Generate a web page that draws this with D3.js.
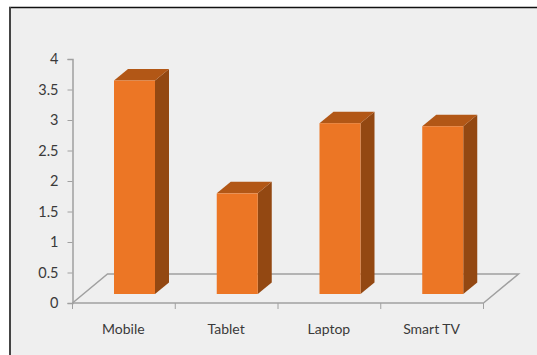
<!DOCTYPE html>
<html>
<head>
<meta charset="utf-8">
<script src="https://cdn.jsdelivr.net/npm/d3@7/dist/d3.min.js"></script>
<style>
html,body{margin:0;padding:0;background:#fff;}
svg{display:block;}
text{font-family:Lato,"Open Sans",sans-serif;}
</style>
</head>
<body>
<svg id="chart" width="537" height="355"></svg>
<script>
const categories = ["Mobile", "Tablet", "Laptop", "Smart TV"];
const usageValues = [3.5, 1.65, 2.8, 2.75];
const yTickValues = [0, 0.5, 1, 1.5, 2, 2.5, 3, 3.5, 4];

const svg = d3.select("#chart");

// Panel background and its dark top and left edges
svg.append("rect").attr("x", 10).attr("y", 8).attr("width", 527).attr("height", 347).attr("fill", "#efefef");
svg.append("line").attr("x1", 9).attr("x2", 537).attr("y1", 7.5).attr("y2", 7.5).attr("stroke", "#111").attr("stroke-width", 1.4);
svg.append("line").attr("x1", 10).attr("x2", 10).attr("y1", 7).attr("y2", 355).attr("stroke", "#444").attr("stroke-width", 2);

const xBand = d3.scaleBand().domain(categories).range([72.5, 483.5]);
const y = d3.scaleLinear().domain([0, 4]).range([303, 59]);

// Floor depth and the offset of each bar inside it
const floor = {dx: 35, dy: -29};
const barBase = {dy: -9};
const side = {dx: 14, dy: -11.5};

const gridColor = "#a0a0a0";

// Floor outline
svg.append("path")
  .attr("d", d3.line()([
    [72.5, y(0)],
    [72.5 + floor.dx, y(0) + floor.dy],
    [483.5 + floor.dx, y(0) + floor.dy],
    [483.5, y(0)]
  ]))
  .attr("fill", "none").attr("stroke", gridColor).attr("stroke-width", 1.5);

// Value axis
const yAxis = svg.append("g").attr("transform", "translate(72.5,0)")
  .call(d3.axisLeft(y).tickValues(yTickValues).tickSize(5).tickPadding(9).tickFormat(d3.format("~g")));
yAxis.selectAll("line").attr("stroke", gridColor);
yAxis.select(".domain").attr("stroke", gridColor).attr("stroke-width", 1.5);
yAxis.selectAll("text").attr("font-size", 14.5).attr("fill", "#3a3a3a");

// Category axis: ticks sit on the band edges
const edges = categories.map(c => xBand(c)).concat(483.5);
const xAxis = svg.append("g");
xAxis.append("line").attr("x1", 72.5).attr("x2", 483.5).attr("y1", 303).attr("y2", 303)
  .attr("stroke", gridColor).attr("stroke-width", 1.5);
xAxis.selectAll("line.tick").data(edges).join("line").attr("class", "tick")
  .attr("x1", d => d).attr("x2", d => d).attr("y1", 303).attr("y2", 309)
  .attr("stroke", gridColor);
xAxis.selectAll("text").data(categories).join("text")
  .attr("x", d => xBand(d) + xBand.bandwidth() / 2 - 0.5)
  .attr("y", 334)
  .attr("text-anchor", "middle")
  .attr("font-size", 14)
  .attr("fill", "#3a3a3a")
  .text(d => d);

// 3D bars: side face, top face, then front face
const bars = svg.append("g").selectAll("g").data(categories.map((c, i) => ({c, v: usageValues[i]}))).join("g");
const left = d => xBand(d.c) + 41.5;
const barW = 41;
const base = y(0) + barBase.dy;
const topY = d => base - (y(0) - y(d.v));

bars.append("path").attr("fill", "#934812")
  .attr("d", d => d3.line()([
    [left(d) + barW, topY(d)],
    [left(d) + barW + side.dx, topY(d) + side.dy],
    [left(d) + barW + side.dx, base + side.dy],
    [left(d) + barW, base]
  ]) + "Z");
bars.append("path").attr("fill", "#b25716")
  .attr("d", d => d3.line()([
    [left(d), topY(d)],
    [left(d) + side.dx, topY(d) + side.dy],
    [left(d) + barW + side.dx, topY(d) + side.dy],
    [left(d) + barW, topY(d)]
  ]) + "Z");
bars.append("rect").attr("fill", "#ec7625")
  .attr("x", left).attr("y", topY).attr("width", barW).attr("height", d => base - topY(d));
</script>
</body>
</html>
